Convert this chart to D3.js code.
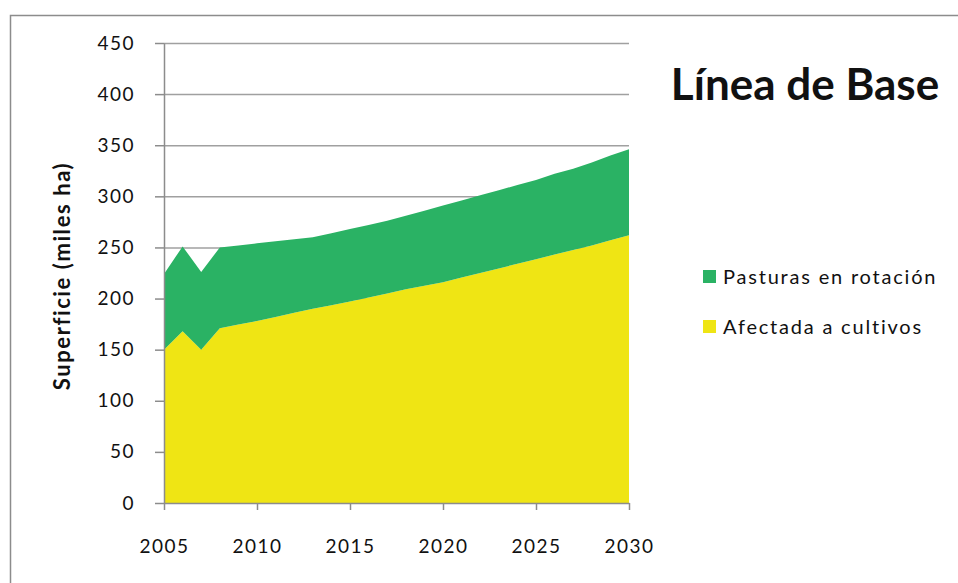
<!DOCTYPE html>
<html>
<head>
<meta charset="utf-8">
<script src="https://cdn.jsdelivr.net/npm/d3@7"></script>
<style>
  html, body { margin: 0; padding: 0; background: #fff; }
  svg { display: block; }
  text { font-family: Lato, "Open Sans", sans-serif; fill: #111; }
</style>
</head>
<body>
<svg id="chart" width="958" height="583"></svg>
<script>
// Annual series, thousand hectares
const years = d3.range(2005, 2031);
const cultivos = [150, 168, 150, 171, 174.5, 178, 182, 186, 190, 193.5, 197, 201, 205, 209,
                  212.5, 216, 220.5, 225, 229.5, 234, 238.5, 243, 247.5, 252, 257, 262];
const pasturas = [74, 83, 76, 79, 77.5, 76, 74, 72, 70, 70.5, 71, 71, 71, 72,
                  73.5, 75, 75.5, 76, 76.5, 77, 77.5, 79, 79.5, 81, 83, 84];
const seriesNames = ["Afectada a cultivos", "Pasturas en rotación"];
const seriesColors = ["#EFE514", "#2AB264"];
const yTicks = [0, 50, 100, 150, 200, 250, 300, 350, 400, 450];
const xTicks = [2005, 2010, 2015, 2020, 2025, 2030];

const rows = years.map((y, i) => ({ year: y, cultivos: cultivos[i], pasturas: pasturas[i] }));

const svg = d3.select("#chart");
const plot = { left: 164, right: 629, top: 43, bottom: 503 };

// frame around the chart area
svg.append("path")
  .attr("d", "M10.5,600 V15.5 H970")
  .attr("fill", "none").attr("stroke", "#8c8c8c").attr("stroke-width", 1.5);

const x = d3.scaleLinear().domain([2005, 2030]).range([plot.left, plot.right]);
const y = d3.scaleLinear().domain([0, 450]).range([plot.bottom, plot.top]);

// horizontal gridlines
svg.append("g").selectAll("line").data(yTicks.filter(v => v > 0)).join("line")
  .attr("x1", plot.left).attr("x2", plot.right)
  .attr("y1", d => y(d) + 0.5).attr("y2", d => y(d) + 0.5)
  .attr("stroke", "#a0a0a0").attr("stroke-width", 1.5);

// stacked areas
const stack = d3.stack().keys(["cultivos", "pasturas"]);
const layers = stack(rows);
const area = d3.area()
  .x(d => x(d.data.year))
  .y0(d => y(d[0]))
  .y1(d => y(d[1]));

svg.append("g").selectAll("path").data(layers).join("path")
  .attr("d", area)
  .attr("fill", (d, i) => seriesColors[i]);

// y axis
const yAxis = svg.append("g")
  .attr("transform", `translate(${plot.left},0)`)
  .call(d3.axisLeft(y).tickValues(yTicks).tickSize(9).tickPadding(20).tickSizeOuter(0));
yAxis.select(".domain").attr("stroke", "#8c8c8c").attr("stroke-width", 1.5);
yAxis.selectAll(".tick line").attr("stroke", "#8c8c8c").attr("stroke-width", 1.5);
yAxis.selectAll(".tick text").attr("font-size", 19).attr("letter-spacing", 1.5)
  .attr("font-family", "Lato, sans-serif").attr("fill", "#111");

// x axis
const xAxis = svg.append("g")
  .attr("transform", `translate(0,${plot.bottom})`)
  .call(d3.axisBottom(x).tickValues(xTicks).tickFormat(d3.format("d")).tickSize(7).tickPadding(30).tickSizeOuter(0));
xAxis.select(".domain").attr("stroke", "#8c8c8c").attr("stroke-width", 1.5);
xAxis.selectAll(".tick line").attr("stroke", "#8c8c8c").attr("stroke-width", 1.5);
xAxis.selectAll(".tick text").attr("font-size", 19).attr("letter-spacing", 1.5)
  .attr("font-family", "Lato, sans-serif").attr("fill", "#111");

// y axis title
svg.append("text")
  .attr("transform", "translate(70,276) rotate(-90)")
  .attr("text-anchor", "middle")
  .attr("font-size", 22).attr("font-weight", "bold").attr("letter-spacing", 1.6)
  .text("Superficie (miles ha)");

// chart title
svg.append("text")
  .attr("x", 805).attr("y", 100)
  .attr("text-anchor", "middle")
  .attr("font-size", 44).attr("font-weight", "bold")
  .text("Línea de Base");

// legend (green entry first)
const legendItems = [
  { name: seriesNames[1], color: seriesColors[1] },
  { name: seriesNames[0], color: seriesColors[0] }
];
const legend = svg.append("g").selectAll("g").data(legendItems).join("g")
  .attr("transform", (d, i) => `translate(703,${270 + i * 50})`);
legend.append("rect").attr("width", 13).attr("height", 13).attr("fill", d => d.color);
legend.append("text")
  .attr("x", 20).attr("y", 7).attr("dy", "0.35em")
  .attr("font-size", 20).attr("letter-spacing", 1.8)
  .text(d => d.name);
</script>
</body>
</html>
